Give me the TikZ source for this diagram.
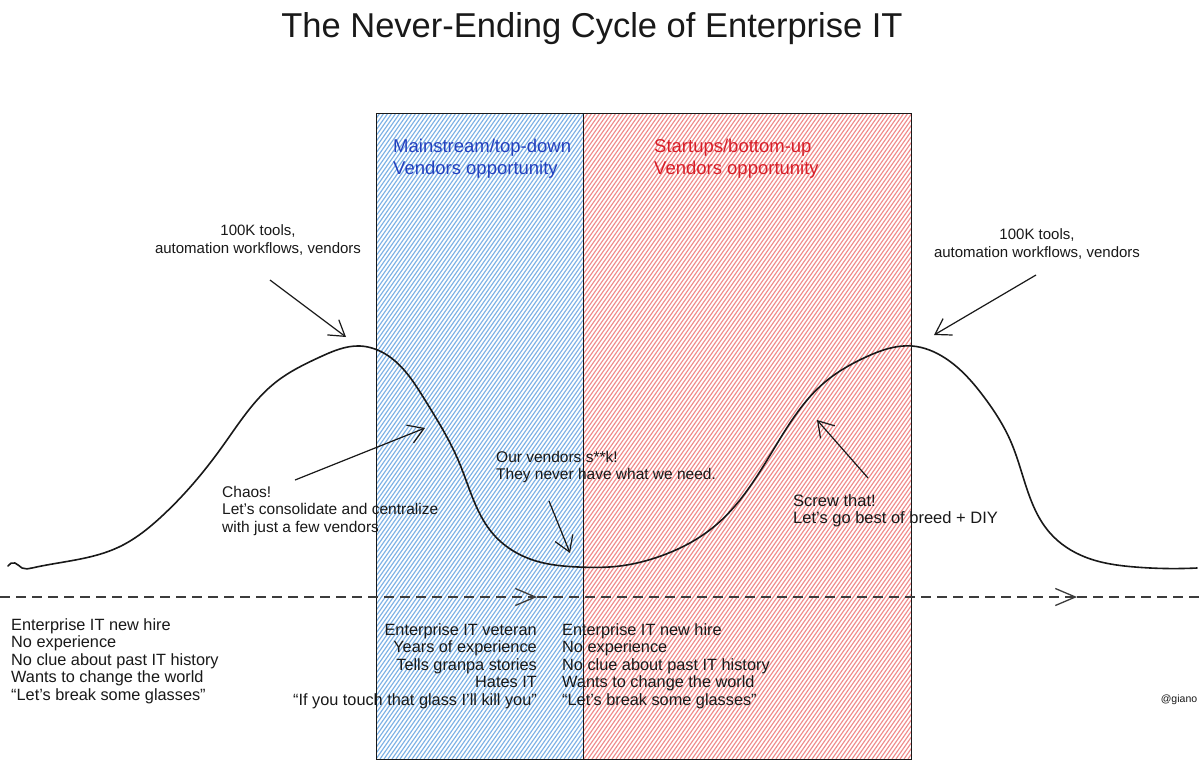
\documentclass[tikz,border=0pt]{standalone}
\usepackage{fontspec}
\setmainfont{Liberation Sans}
\usetikzlibrary{arrows.meta,hobby}
\definecolor{hatchblue}{RGB}{125,178,230}
\definecolor{hatchred}{RGB}{240,140,140}
\definecolor{txtblue}{RGB}{35,65,190}
\definecolor{txtred}{RGB}{215,30,40}
\definecolor{ink}{RGB}{25,25,25}
\tikzset{
  zonebox/.style={draw=ink, line width=1.3pt, inner sep=0pt, anchor=north west},
  hatchline/.style={line width=1.15pt},
  note/.style={inner sep=0pt, text=ink, font=\fontsize{15.5}{17.5}\selectfont},
  bottomnote/.style={inner sep=0pt, text=ink, font=\fontsize{16.3}{17.5}\selectfont},
  zonetitle/.style={inner sep=0pt, anchor=west, align=left, font=\fontsize{18.5}{22}\selectfont},
  pointer/.style={draw=ink, line width=1.2pt, -{Straight Barb[length=15pt,width=19pt,line width=1.2pt]}},
  timeline/.style={draw=ink!85, line width=1.3pt, dash pattern=on 10pt off 6pt},
  timetip/.style={-{Straight Barb[length=20pt,width=17pt,line width=1.3pt]}},
  cycle/.style={draw=ink, line width=1.6pt, line join=round, line cap=round}
}
\begin{document}
\begin{tikzpicture}[x=1pt,y=-1pt]
\useasboundingbox (0,0) rectangle (1200,769);
\fill[white] (0,0) rectangle (1200,769);

% hatching
\begin{scope}
\clip (376,113) rectangle (583,759);
\foreach \x in {-80,-76,...,590} \draw[hatchline, hatchblue] (\x,759) -- ++(452,-646);
\end{scope}
\begin{scope}
\clip (583,113) rectangle (911,759);
\foreach \x in {120,124,...,915} \draw[hatchline, hatchred] (\x,759) -- ++(452,-646);
\end{scope}

% boxes
\node[zonebox, minimum width=207pt, minimum height=646pt] (bluebox) at (376,113) {};
\node[zonebox, minimum width=328pt, minimum height=646pt] (redbox) at (583,113) {};

% title
\node[inner sep=0pt, text=ink, font=\fontsize{34.5}{38}\selectfont] (title) at (592,29) {The Never-Ending Cycle of Enterprise IT};

% zone titles
\node[zonetitle, text=txtblue] (bluetitle) at (393,159) {Mainstream/top-down\\Vendors opportunity};
\node[zonetitle, text=txtred] (redtitle) at (654,159) {Startups/bottom-up\\Vendors opportunity};

% cycle curve
\draw[cycle, use Hobby shortcut] (8,566) .. (15,563) .. (22,568) .. (32,568) .. (119,547) .. (161,517)
 .. (222,447) .. (276,382) .. (320,357) .. (360,346) .. (387,355) .. (425,400) .. (459,462)
 .. (494,535) .. (536,561) .. (578,567) .. (620,566) .. (658,557) .. (716,525) .. (775,447)
 .. (825,382) .. (866,357) .. (912,346) .. (945,358) .. (984,397) .. (1011,442) .. (1050,533)
 .. (1085,557) .. (1135,567) .. (1197,568);

% timeline
\coordinate (t0) at (0,597);
\coordinate (t1) at (537,597);
\coordinate (t2) at (1077,597);
\coordinate (t3) at (1200,597);
\draw[timeline, timetip] (t0) -- (t1);
\draw[timeline, timetip] (t1) -- (t2);
\draw[timeline] (t2) -- (t3);

% annotations
\node[note, align=center, font=\fontsize{15}{17.5}\selectfont] (peakL) at (258,240) {100K tools,\\automation workflows, vendors};
\node[note, align=center, font=\fontsize{15}{17.5}\selectfont] (peakR) at (1037,244) {100K tools,\\automation workflows, vendors};
\node[note, align=left, anchor=north west] (chaos) at (222,486) {Chaos!\\Let's consolidate and centralize\\with just a few vendors};
\node[note, align=left, anchor=north west] (vendors) at (496,451) {Our vendors s**k!\\They never have what we need.};
\node[note, align=left, anchor=north west, font=\fontsize{16.5}{17.5}\selectfont] (screw) at (793,494) {Screw that!\\Let's go best of breed + DIY};

% pointer arrows
\coordinate (pLs) at (270,280); \coordinate (pLe) at (346,337);
\coordinate (pRs) at (1036,275); \coordinate (pRe) at (934,335);
\coordinate (cs) at (295,480); \coordinate (ce) at (425,428);
\coordinate (vs) at (549,501); \coordinate (ve) at (570,553);
\coordinate (ss) at (868,478); \coordinate (se) at (817,420);
\draw[pointer] (pLs) -- (pLe);
\draw[pointer] (pRs) -- (pRe);
\draw[pointer] (cs) -- (ce);
\draw[pointer] (vs) -- (ve);
\draw[pointer] (ss) -- (se);

% bottom texts
\node[bottomnote, align=left, anchor=north west] (hireL) at (11,618) {Enterprise IT new hire\\No experience\\No clue about past IT history\\Wants to change the world\\``Let's break some glasses''};
\node[bottomnote, align=right, anchor=north east] (veteran) at (537,623) {Enterprise IT veteran\\Years of experience\\Tells granpa stories\\Hates IT\\``If you touch that glass I'll kill you''};
\node[bottomnote, align=left, anchor=north west] (hireM) at (562,623) {Enterprise IT new hire\\No experience\\No clue about past IT history\\Wants to change the world\\``Let's break some glasses''};
\node[inner sep=0pt, text=ink, font=\fontsize{10.5}{13}\selectfont] (giano) at (1179,700) {@giano};
\end{tikzpicture}
\end{document}
